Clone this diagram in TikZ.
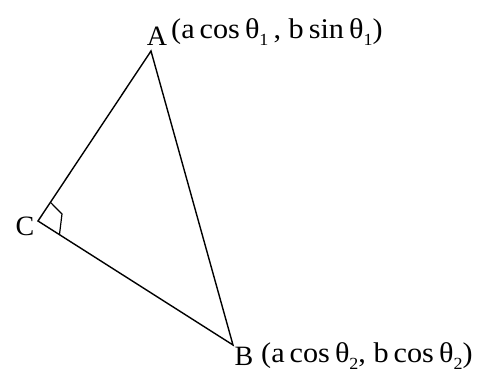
\documentclass[tikz,border=0pt]{standalone}
\usepackage{fontspec}
\usepackage{graphicx}
\setmainfont{Liberation Serif}
\usetikzlibrary{calc}
\newcommand{\sbs}[1]{\raisebox{-0.28em}{\fontsize{17}{17}\selectfont #1}}
\tikzset{
  lbl/.style={inner sep=0pt, font=\fontsize{28}{30}\selectfont},
  coordlbl/.style={inner sep=0pt, anchor=base west, font=\fontsize{28.5}{30}\selectfont},
  edge/.style={line width=1.4pt, black}
}
\begin{document}
\begin{tikzpicture}[x=1pt,y=-1pt]
\useasboundingbox (0,0) rectangle (482,373);
\coordinate (A) at (151,51);
\coordinate (B) at (233,345);
\coordinate (C) at (38,221);
\draw[edge] (A) -- (B) -- (C) -- cycle;
\coordinate (p1) at ($(C)!0.11!(A)$);
\coordinate (p3) at ($(C)!0.11!(B)$);
\coordinate (p2) at (62,214);
\draw[edge, line width=1.2pt] (p1) -- (p2) -- (p3);
\node[lbl, anchor=base] (la) at (157,45) {A};
\node[coordlbl] (ca) at (171,38) {\scalebox{1.06}[1]{(a\,cos\,θ\sbs{1}\,, b\,sin\,θ\sbs{1})}};
\node[lbl, anchor=base] (lb) at (244,365) {B};
\node[coordlbl] (cb) at (261,362) {\scalebox{1.06}[1]{(a\,cos\,θ\sbs{2}, b\,cos\,θ\sbs{2})}};
\node[lbl, anchor=base] (lc) at (25,235) {C};
\end{tikzpicture}
\end{document}
